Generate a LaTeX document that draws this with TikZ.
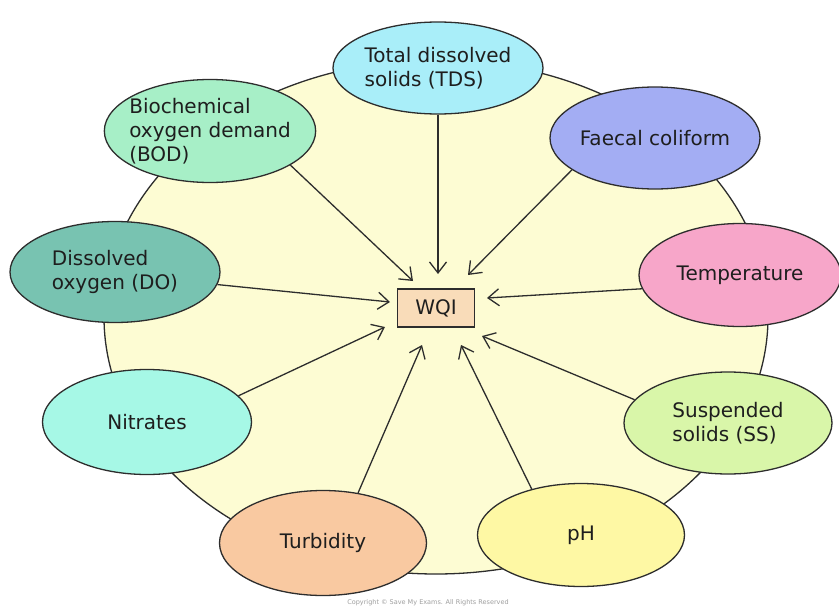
\documentclass[tikz,border=0pt]{standalone}
\usepackage{fontspec}
\setmainfont{DejaVu Sans}
\usetikzlibrary{shapes.geometric,arrows.meta}
\definecolor{edge}{RGB}{45,45,45}
\definecolor{ink}{RGB}{30,30,30}
\definecolor{bigfill}{RGB}{253,252,211}
\definecolor{ctds}{RGB}{169,238,249}
\definecolor{cfc}{RGB}{163,173,243}
\definecolor{cbod}{RGB}{167,239,199}
\definecolor{cdo}{RGB}{120,195,177}
\definecolor{ctemp}{RGB}{247,166,201}
\definecolor{cnit}{RGB}{166,248,230}
\definecolor{css}{RGB}{217,246,169}
\definecolor{cturb}{RGB}{249,201,161}
\definecolor{cph}{RGB}{254,248,164}
\definecolor{cwqi}{RGB}{249,220,185}
\begin{document}
\begin{tikzpicture}[x=1pt,y=-1pt,
  pill/.style={ellipse,draw=edge,line width=1.3pt,inner xsep=-6pt,inner ysep=0pt,text=ink,
    font=\fontsize{20}{24}\selectfont,align=left},
  arr/.style={draw=edge,line width=1.3pt,
    -{Straight Barb[length=11pt,width=17pt,line width=1.3pt]}}]
\useasboundingbox (0,0) rectangle (839,608);
\fill[white] (0,0) rectangle (839,608);
\node[draw=edge,fill=bigfill,ellipse,minimum width=664pt,minimum height=514pt,
  line width=1.3pt] (disk) at (436,317) {};
\node[draw=edge,fill=cwqi,minimum width=77pt,minimum height=38pt,line width=1.3pt,
  text=ink,font=\fontsize{20}{24}\selectfont] (wqi) at (436,308) {WQI};
\node[pill,fill=ctds,minimum width=210pt,minimum height=92pt] (tds) at (438,68) {Total dissolved\\solids (TDS)};
\node[pill,fill=cfc,minimum width=210pt,minimum height=102pt] (fc) at (655,138) {Faecal coliform};
\node[pill,fill=cbod,minimum width=208pt,minimum height=103pt] (bod) at (210,131) {Biochemical\\oxygen demand\\(BOD)};
\node[pill,fill=cdo,minimum width=210pt,minimum height=101pt] (do) at (115,272) {Dissolved\\oxygen (DO)};
\node[pill,fill=ctemp,minimum width=202pt,minimum height=103pt] (temp) at (740,275) {Temperature};
\node[pill,fill=cnit,minimum width=209pt,minimum height=105pt] (nit) at (147,422) {Nitrates};
\node[pill,fill=css,minimum width=208pt,minimum height=102pt] (ss) at (728,423) {Suspended\\solids (SS)};
\node[pill,fill=cturb,minimum width=207pt,minimum height=105pt] (turb) at (323,543) {Turbidity};
\node[pill,fill=cph,minimum width=207pt,minimum height=103pt] (ph) at (581,535) {pH};
\coordinate (ttds) at (438,274);
\coordinate (tfc) at (468,275);
\coordinate (tbod) at (413,281);
\coordinate (tdo) at (390,302);
\coordinate (ttemp) at (487,298);
\coordinate (tnit) at (385,327);
\coordinate (tss) at (482,336);
\coordinate (tturb) at (422,345);
\coordinate (tph) at (461,345);
\draw[arr] (tds.south) -- (ttds);
\draw[arr] (fc.201) -- (tfc);
\draw[arr] (bod.337) -- (tbod);
\draw[arr] (do.353) -- (tdo);
\draw[arr] (temp.188) -- (ttemp);
\draw[arr] (nit.16) -- (tnit);
\draw[arr] (ss.166) -- (tss);
\draw[arr] (turb.55) -- (tturb);
\draw[arr] (ph.137) -- (tph);
\node[text=gray!75,font=\fontsize{6.5}{8}\selectfont] (copy) at (428,603) {Copyright © Save My Exams. All Rights Reserved};
\end{tikzpicture}
\end{document}
